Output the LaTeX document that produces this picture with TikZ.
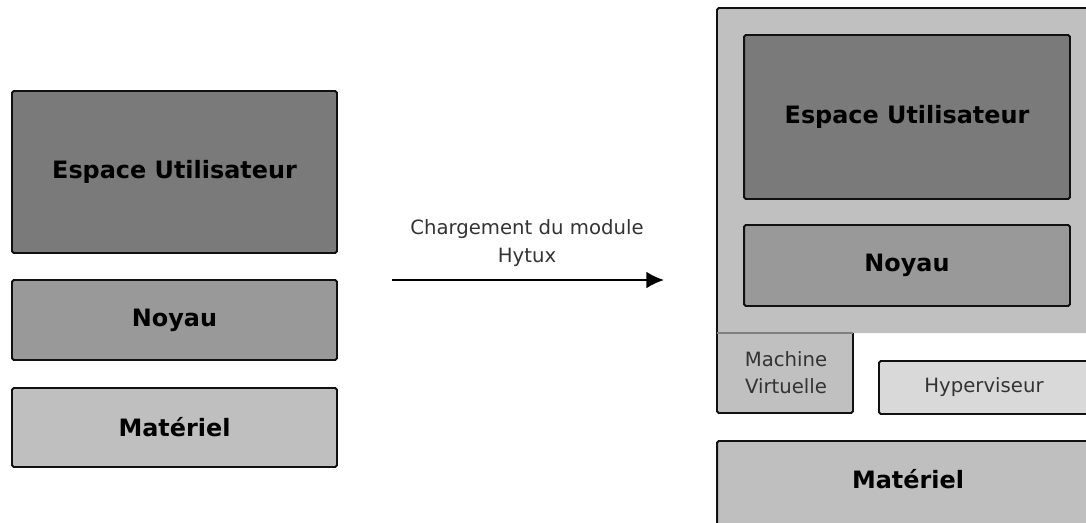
\documentclass[tikz,border=0pt]{standalone}
\usepackage{fontspec}
\setmainfont{DejaVu Sans}
\usetikzlibrary{arrows.meta, positioning}
\definecolor{userfill}{HTML}{7A7A7A}
\definecolor{kernelfill}{HTML}{999999}
\definecolor{hwfill}{HTML}{BFBFBF}
\definecolor{vmfill}{HTML}{C0C0C0}
\definecolor{hyperfill}{HTML}{D9D9D9}
\definecolor{edgecol}{HTML}{111111}

\tikzset{
    layer/.style={draw=edgecol, line width=1.1pt, rounded corners=1pt, inner sep=0pt},
    boldlabel/.style={font=\fontsize{13.6}{16}\selectfont\bfseries, text=black},
    plainlabel/.style={font=\fontsize{11.2}{15.5}\selectfont, text=black!80, align=center},
    loadarrow/.style={line width=1.1pt, -{Latex[length=10pt,width=9.5pt]}}
}

\begin{document}
\begin{tikzpicture}[x=0.02cm, y=-0.02cm]
    \useasboundingbox (0,0) rectangle (1086,522);

    % Before: native system
    \node[layer, fill=userfill, minimum width=6.5cm, minimum height=3.24cm, boldlabel] (userL) at (174.5,172) {Espace Utilisateur};
    \node[layer, fill=kernelfill, minimum width=6.5cm, minimum height=1.6cm, boldlabel] (kernelL) at (174.5,320) {Noyau};
    \node[layer, fill=hwfill, minimum width=6.5cm, minimum height=1.58cm, boldlabel] (hwL) at (174.5,427.5) {Matériel};

    % Loading arrow
    \coordinate (loadfrom) at (392,280);
    \coordinate (loadto) at (664,280);
    \draw[loadarrow] (loadfrom) -- (loadto);
    \node[plainlabel] (loadtext) at (527,243) {Chargement du module\\Hytux};

    % After: virtual machine container
    \fill[vmfill] (717,8) -- (1100,8) -- (1100,333) -- (853,333) -- (853,413) -- (717,413) -- cycle;
    \draw[edgecol, line width=1.1pt, rounded corners=1pt] (1100,8) -- (717,8) -- (717,413) -- (853,413) -- (853,333);
    \draw[gray, line width=0.6pt] (717,333) -- (853,333);
    \node[plainlabel] (vmtext) at (786,373) {Machine\\Virtuelle};

    \node[layer, fill=userfill, minimum width=6.52cm, minimum height=3.28cm, boldlabel] (userR) at (907,117) {Espace Utilisateur};
    \node[layer, fill=kernelfill, minimum width=6.52cm, minimum height=1.62cm, boldlabel] (kernelR) at (907,265.5) {Noyau};

    % Hypervisor and hardware
    \node[layer, fill=hyperfill, minimum width=4.6cm, minimum height=1.06cm] (hyperbox) at (994,387.5) {};
    \node[plainlabel] (hypertext) at (984,387) {Hyperviseur};
    \node[layer, fill=hwfill, minimum width=7.8cm, minimum height=2cm] (hwRbox) at (912,491) {};
    \node[boldlabel] (hwRtext) at (908,479) {Matériel};
\end{tikzpicture}
\end{document}
